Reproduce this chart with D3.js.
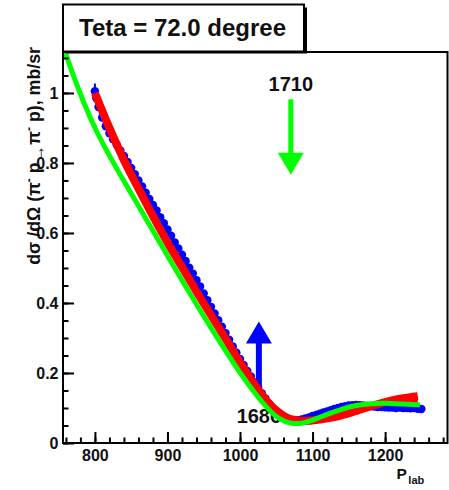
<!DOCTYPE html>
<html>
<head>
<meta charset="utf-8">
<script src="https://cdn.jsdelivr.net/npm/d3@7"></script>
<style>
  html, body { margin: 0; padding: 0; background: #fff; }
  svg { display: block; font-family: "Liberation Sans", Arial, Helvetica, sans-serif; font-weight: bold; }
</style>
</head>
<body>
<svg id="chart" width="449" height="490"></svg>
<script>
// ---- labels and ticks ----
const titleText = "Teta = 72.0 degree";
const xTickValues = [800, 900, 1000, 1100, 1200];
const xTickLabels = ["800", "900", "1000", "1100", "1200"];
const xMinorTicks = [760, 780, 800, 820, 840, 860, 880, 900, 920, 940, 960, 980, 1000, 1020, 1040, 1060,
                     1080, 1100, 1120, 1140, 1160, 1180, 1200, 1220, 1240, 1260, 1280];
const yTickValues = [0, 0.2, 0.4, 0.6, 0.8, 1];
const yTickLabels = ["0", "0.2", "0.4", "0.6", "0.8", "1"];
const yMinorTicks = [0, 0.05, 0.1, 0.15, 0.2, 0.25, 0.3, 0.35, 0.4, 0.45, 0.5, 0.55, 0.6, 0.65, 0.7,
                     0.75, 0.8, 0.85, 0.9, 0.95, 1, 1.05, 1.1];

// ---- measured cross sections (P_lab in MeV/c, dσ/dΩ in mb/sr) ----
const dataP = [800, 802, 805, 810, 815, 820, 825, 830, 835, 840, 845, 850, 855, 860, 865, 870, 875, 880,
  885, 890, 895, 900, 905, 910, 915, 920, 925, 930, 935, 940, 945, 950, 955, 960, 965, 970, 975, 980,
  985, 990, 995, 1000, 1005, 1010, 1015, 1020, 1025, 1030, 1035, 1040, 1045, 1050, 1055, 1060, 1065,
  1070, 1075, 1080, 1085, 1090, 1095, 1100, 1105, 1110, 1115, 1120, 1125, 1130, 1135, 1140, 1145,
  1150, 1155, 1160, 1165, 1170, 1175, 1180, 1185, 1190, 1195, 1200, 1205, 1210, 1215, 1220, 1225,
  1230, 1235, 1240, 1245, 1250];
const dataXs = [1.005, 0.985, 0.96, 0.93, 0.905, 0.885, 0.868, 0.852, 0.836, 0.82, 0.803, 0.786, 0.768,
  0.75, 0.733, 0.715, 0.697, 0.68, 0.664, 0.645, 0.628, 0.61, 0.592, 0.573, 0.556, 0.538, 0.52, 0.501,
  0.484, 0.465, 0.447, 0.427, 0.408, 0.389, 0.37, 0.351, 0.332, 0.314, 0.295, 0.276, 0.258, 0.24, 0.223,
  0.206, 0.19, 0.174, 0.158, 0.142, 0.127, 0.112, 0.099, 0.088, 0.079, 0.072, 0.067, 0.065, 0.064,
  0.065, 0.067, 0.07, 0.073, 0.077, 0.08, 0.084, 0.087, 0.09, 0.094, 0.097, 0.1, 0.103, 0.105, 0.107,
  0.108, 0.109, 0.108, 0.107, 0.106, 0.105, 0.104, 0.103, 0.103, 0.102, 0.101, 0.101, 0.1, 0.101, 0.1,
  0.1, 0.099, 0.1, 0.098, 0.097];
const dataErr = [0.022, 0.008, 0.006, 0.006, 0.006, 0.006, 0.006, 0.006, 0.006, 0.006, 0.006, 0.006,
  0.006, 0.006, 0.006, 0.006, 0.006, 0.006, 0.006, 0.006, 0.006, 0.006, 0.006, 0.006, 0.006, 0.006,
  0.006, 0.006, 0.006, 0.006, 0.006, 0.006, 0.006, 0.005, 0.005, 0.005, 0.005, 0.005, 0.005, 0.005,
  0.005, 0.005, 0.005, 0.005, 0.005, 0.005, 0.005, 0.005, 0.005, 0.004, 0.004, 0.004, 0.004, 0.004,
  0.004, 0.004, 0.004, 0.004, 0.004, 0.004, 0.004, 0.004, 0.004, 0.004, 0.004, 0.004, 0.004, 0.004,
  0.004, 0.004, 0.004, 0.004, 0.004, 0.004, 0.004, 0.004, 0.004, 0.004, 0.004, 0.004, 0.004, 0.004,
  0.004, 0.004, 0.004, 0.004, 0.004, 0.004, 0.004, 0.004, 0.004, 0.004];

// ---- red fit ----
const redP  = [800, 820, 840, 860, 880, 900, 920, 940, 960, 980, 1000, 1020, 1040, 1055, 1070, 1090,
               1110, 1130, 1155, 1180, 1200, 1225, 1245];
const redXs = [1.0, 0.9, 0.808, 0.727, 0.648, 0.573, 0.503, 0.433, 0.365, 0.298, 0.23, 0.167, 0.113,
               0.085, 0.068, 0.063, 0.067, 0.074, 0.088, 0.105, 0.117, 0.128, 0.134];
// widening of the red fit at the upper end of the range
const redBandP  = [1170, 1200, 1225, 1245];
const redBandLo = [0.1, 0.107, 0.11, 0.111];
const redBandHi = [0.1, 0.117, 0.128, 0.134];

// ---- green fit ----
const greenP  = [756, 770, 785, 800, 820, 840, 860, 880, 900, 920, 940, 960, 980, 1000, 1020, 1040,
                 1055, 1070, 1085, 1100, 1120, 1140, 1160, 1180, 1200, 1225, 1248];
const greenXs = [1.135, 1.05, 0.97, 0.898, 0.82, 0.748, 0.678, 0.606, 0.535, 0.465, 0.396, 0.328,
                 0.264, 0.2, 0.143, 0.093, 0.066, 0.055, 0.055, 0.065, 0.082, 0.097, 0.108, 0.113,
                 0.114, 0.111, 0.109];

// ---- resonance markers ----
const markLabels = ["1710", "1686"];
const markP      = [1070, 1026];
const markFrom   = [0.982, 0.132];
const markTo     = [0.766, 0.347];

// ---------------------------------------------------------------
const svg = d3.select("#chart");
const frame = { left: 63, top: 52, right: 447.5, bottom: 443 };

const x = d3.scaleLinear().domain([756, 1286]).range([frame.left, frame.right]);
const y = d3.scaleLinear().domain([0, 1.117]).range([frame.bottom, frame.top]);

svg.append("defs").append("clipPath").attr("id", "plotClip")
  .append("rect")
  .attr("x", frame.left).attr("y", frame.top)
  .attr("width", frame.right - frame.left).attr("height", frame.bottom - frame.top);

// marker arrows and their labels (drawn under the data)
const markColors = ["#00ff00", "#0000ff"];
const markShaft = [5, 6];
markP.forEach((p, i) => {
  const g = svg.append("g");
  const cx = x(p), y0 = y(markFrom[i]), y1 = y(markTo[i]);
  const dir = Math.sign(y1 - y0);
  const headLen = 22, headHalf = 13;
  const yBase = y1 - dir * headLen;
  g.append("line")
    .attr("x1", cx).attr("x2", cx).attr("y1", y0).attr("y2", yBase + dir * 1)
    .attr("stroke", markColors[i]).attr("stroke-width", markShaft[i]);
  g.append("path")
    .attr("d", `M${cx - headHalf},${yBase}L${cx + headHalf},${yBase}L${cx},${y1}Z`)
    .attr("fill", markColors[i]);
  g.append("text")
    .attr("x", cx)
    .attr("y", dir > 0 ? y0 - 8 : y0 + 26.5)
    .attr("text-anchor", "middle")
    .attr("font-size", 20)
    .attr("fill", "#111")
    .text(markLabels[i]);
});

const plot = svg.append("g").attr("clip-path", "url(#plotClip)");

// data points with error bars
const pts = d3.range(dataP.length);
plot.append("g").selectAll("line").data(pts).join("line")
  .attr("x1", i => x(dataP[i])).attr("x2", i => x(dataP[i]))
  .attr("y1", i => y(dataXs[i] - dataErr[i])).attr("y2", i => y(dataXs[i] + dataErr[i]))
  .attr("stroke", "#0000ff").attr("stroke-width", 2);
plot.append("g").selectAll("circle").data(pts).join("circle")
  .attr("cx", i => x(dataP[i])).attr("cy", i => y(dataXs[i]))
  .attr("r", 4.2).attr("fill", "#0000ff");

// red fit
plot.append("path")
  .datum(d3.range(redBandP.length))
  .attr("d", d3.area().curve(d3.curveMonotoneX)
    .x(i => x(redBandP[i])).y0(i => y(redBandLo[i])).y1(i => y(redBandHi[i])))
  .attr("fill", "#ff0000");
plot.append("path")
  .datum(d3.range(redP.length))
  .attr("d", d3.line().curve(d3.curveMonotoneX).x(i => x(redP[i])).y(i => y(redXs[i])))
  .attr("fill", "none").attr("stroke", "#ff0000").attr("stroke-width", 8)
  .attr("stroke-linejoin", "round");

// green fit
plot.append("path")
  .datum(d3.range(greenP.length))
  .attr("d", d3.line().curve(d3.curveBasis).x(i => x(greenP[i])).y(i => y(greenXs[i])))
  .attr("fill", "none").attr("stroke", "#00ff00").attr("stroke-width", 5)
  .attr("stroke-linejoin", "round");

// frame
svg.append("rect")
  .attr("x", frame.left).attr("y", frame.top)
  .attr("width", frame.right - frame.left).attr("height", frame.bottom - frame.top)
  .attr("fill", "none").attr("stroke", "#000").attr("stroke-width", 2);

// x axis
const xMinor = svg.append("g").attr("transform", `translate(0,${frame.bottom})`)
  .call(d3.axisBottom(x).tickValues(xMinorTicks).tickSize(-5.5).tickFormat(""));
const xMajor = svg.append("g").attr("transform", `translate(0,${frame.bottom})`)
  .call(d3.axisBottom(x).tickValues(xTickValues).tickSize(-11).tickPadding(7)
    .tickFormat((d, i) => xTickLabels[i]));
// y axis
const yMinor = svg.append("g").attr("transform", `translate(${frame.left},0)`)
  .call(d3.axisLeft(y).tickValues(yMinorTicks).tickSize(-5.5).tickFormat(""));
const yMajor = svg.append("g").attr("transform", `translate(${frame.left},0)`)
  .call(d3.axisLeft(y).tickValues(yTickValues).tickSize(-11).tickPadding(4.5)
    .tickFormat((d, i) => yTickLabels[i]));

[xMinor, xMajor, yMinor, yMajor].forEach(g => {
  g.select(".domain").remove();
  g.selectAll(".tick line").attr("stroke", "#000").attr("stroke-width", 2);
  g.selectAll(".tick text")
    .attr("font-family", "'Liberation Sans', Arial, Helvetica, sans-serif")
    .attr("font-weight", "bold").attr("font-size", 16).attr("fill", "#111");
});

// axis titles
const xt = svg.append("text").attr("x", 396.5).attr("y", 478.5).attr("font-size", 15.5).attr("fill", "#111");
xt.append("tspan").text("P");
xt.append("tspan").attr("dy", 5.5).attr("dx", 1.5).attr("font-size", 11).text("lab");

const yt = svg.append("text")
  .attr("transform", "translate(40,47) rotate(-90)")
  .attr("text-anchor", "end").attr("font-size", 17.8).attr("fill", "#111");
yt.append("tspan").text("dσ /dΩ (π");
yt.append("tspan").attr("dy", -7).attr("font-size", 12).text("-");
yt.append("tspan").attr("dy", 7).text(" p");
yt.append("tspan").attr("dy", 4).text("→");
yt.append("tspan").attr("dy", -4).text("π");
yt.append("tspan").attr("dy", -7).attr("font-size", 12).text("-");
yt.append("tspan").attr("dy", 7).text(" p), mb/sr");

// title box with shadow
svg.append("rect").attr("x", 66).attr("y", 7.5).attr("width", 241).attr("height", 46).attr("fill", "#000");
svg.append("rect").attr("x", 63).attr("y", 4.5).attr("width", 241).attr("height", 47)
  .attr("fill", "#fff").attr("stroke", "#000").attr("stroke-width", 2);
svg.append("text").attr("x", 182.5).attr("y", 35.5).attr("text-anchor", "middle")
  .attr("font-size", 24).attr("fill", "#111").text(titleText);
</script>
</body>
</html>
